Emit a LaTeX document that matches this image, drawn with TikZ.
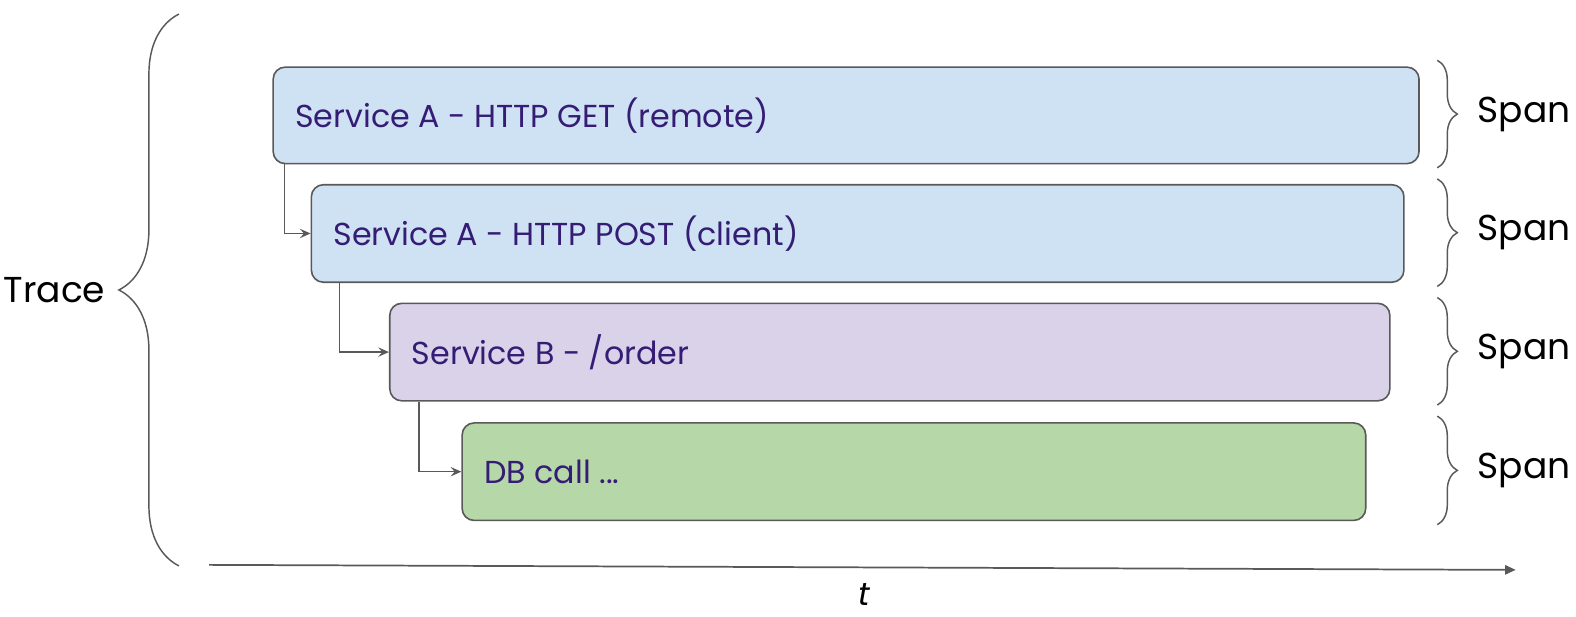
\documentclass[tikz,border=0pt]{standalone}
\usepackage{fontspec}
\setmainfont{Poppins}
\usetikzlibrary{arrows.meta,decorations.pathreplacing,calc}
\definecolor{edge}{HTML}{595959}
\definecolor{blueA}{HTML}{CFE2F3}
\definecolor{purpleB}{HTML}{D9D2E9}
\definecolor{greenC}{HTML}{B6D7A8}
\definecolor{labelink}{HTML}{351C75}
\begin{document}
\begin{tikzpicture}[x=0.75375pt,y=-0.75375pt,
  spanbox/.style 2 args={draw=edge, line width=1.2pt, rounded corners=9pt,
    inner sep=0pt, anchor=north west,
    minimum width={#1*0.75375pt}, minimum height={#2*0.75375pt}},
  boxlabel/.style={anchor=west, xshift=17pt, text=labelink,
    font=\fontsize{23.8}{28}\selectfont, inner sep=0pt},
  link/.style={draw=edge, line width=1.1pt,
    -{Stealth[length=8pt, width=7pt, inset=3pt]}},
  curly/.style={draw=edge, line width=1.1pt, decorate},
  sidetext/.style={font=\fontsize{27}{32}\selectfont, inner sep=0pt}
]
\useasboundingbox (0,0) rectangle (1568,613);

% span boxes
\node[spanbox={1140}{96}, fill=blueA,
  label={[boxlabel]west:Service A - HTTP GET (remote)}] (s1) at (271,66) {};
\node[spanbox={1087}{97}, fill=blueA,
  label={[boxlabel]west:Service A - HTTP POST (client)}] (s2) at (309,183) {};
\node[spanbox={995}{97}, fill=purpleB,
  label={[boxlabel]west:Service B - /order}] (s3) at (387,301) {};
\node[spanbox={899}{97}, fill=greenC,
  label={[boxlabel]west:DB call ...}] (s4) at (459,420) {};

% parent -> child links
\draw[link] ($(s1.south west)+(12,0)$) |- (s2.west);
\draw[link] ($(s2.south west)+(29,0)$) |- (s3.west);
\draw[link] ($(s3.south west)+(30,0)$) |- (s4.west);

% trace brace
\coordinate (trTop) at (178,14);
\coordinate (trBot) at (178,563);
\draw[curly, decoration={brace, amplitude=45pt}] (trBot) -- (trTop);
\node[sidetext, anchor=east] (trace) at (105,289) {Trace};

% span braces
\foreach \i/\ya/\yb in {1/60/167, 2/178/285, 3/296/403, 4/414/522}{
  \coordinate (bA\i) at (1430,\ya);
  \coordinate (bB\i) at (1430,\yb);
  \draw[curly, decoration={brace, amplitude=15pt}] (bA\i) -- (bB\i);
  \node[sidetext, anchor=west] (span\i) at ($(bA\i)!0.5!(bB\i)+(40,0)$) {Span};
}

% time axis
\coordinate (tA) at (208,562);
\coordinate (tB) at (1508,567);
\draw[draw=edge, line width=1.3pt, -{Triangle[length=8pt, width=7pt]}] (tA) -- (tB);
\node[font=\itshape\fontsize{24}{28}\selectfont, inner sep=0pt] (tlabel) at (860,592) {t};
\end{tikzpicture}
\end{document}
